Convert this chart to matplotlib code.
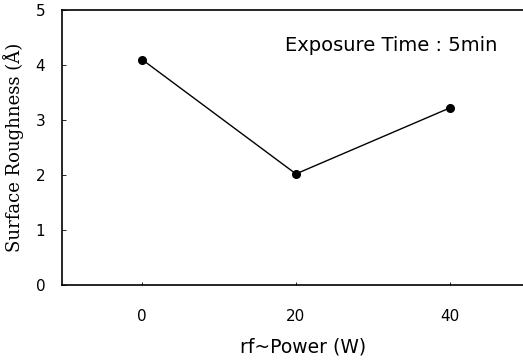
import matplotlib
matplotlib.use("Agg")
import matplotlib.pyplot as plt

power = [0, 20, 40]
roughness = [4.1, 2.02, 3.22]
xticks = [0, 20, 40]
yticks = [0, 1, 2, 3, 4, 5]

fig = plt.figure(figsize=(5.23, 3.61), dpi=100)
ax = fig.add_axes([0.1185, 0.2105, 0.8815, 0.7618])
ax.plot(power, roughness, color="black", lw=1.0, marker="o", ms=5.5,
        markerfacecolor="black", markeredgecolor="black")
ax.set_xlim(-10.4, 49.5)
ax.set_ylim(0, 5)
ax.set_xticks(xticks)
ax.set_yticks(yticks)
ax.spines["right"].set_visible(False)
for s in ["left", "top", "bottom"]:
    ax.spines[s].set_linewidth(1.2)
ax.tick_params(axis="both", direction="in", length=3, width=0.6, labelsize=11)
ax.tick_params(axis="x", pad=17, length=2)
ax.tick_params(axis="y", pad=12)
for lab in ax.get_xticklabels() + ax.get_yticklabels():
    lab.set_fontfamily("DejaVu Sans")
ax.set_xlabel("rf~Power (W)", fontfamily="DejaVu Sans", fontsize=13.5, labelpad=8)
ax.xaxis.set_label_coords(0.523, -0.192)
ax.set_ylabel("Surface Roughness (Å)", fontfamily="DejaVu Serif", fontsize=13, labelpad=8)
ax.text(0.714, 0.87, "Exposure Time : 5min", transform=ax.transAxes,
        fontfamily="DejaVu Sans", fontsize=14, ha="center", va="center")
fig.savefig("out.png", dpi=100)
